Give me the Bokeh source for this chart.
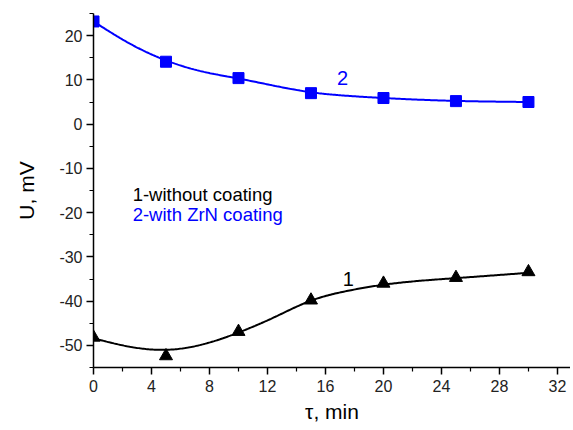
import numpy as np
from bokeh.plotting import figure
from bokeh.models import FixedTicker, Range1d, Label
from bokeh.embed import file_html
from bokeh.resources import INLINE

# data
tau = [0, 5, 10, 15, 20, 25, 30]
u_without = [-48.2, -52.4, -46.9, -39.8, -36.0, -34.7, -33.4]   # series 1 (black triangles)
u_zrn = [23.2, 14.1, 10.4, 7.0, 5.9, 5.2, 5.0]                   # series 2 (blue squares)

# smoothed (fitted) curves
fit1_x = [0, 2.5, 5, 7.5, 10, 12.5, 15, 17.5, 20, 25, 30]
fit1_y = [-48.4, -50.3, -51.0, -49.8, -47.1, -43.6, -39.9, -37.7, -36.3, -34.8, -33.6]
fit2_x = [0, 2.5, 5, 7.5, 10, 12.5, 15, 17.5, 20, 25, 30]
fit2_y = [23.2, 18.2, 14.4, 11.9, 10.3, 8.65, 7.2, 6.4, 5.9, 5.25, 5.0]

x_ticks = [0, 4, 8, 12, 16, 20, 24, 28, 32]
x_minor = [2, 6, 10, 14, 18, 22, 26, 30]
y_ticks = [-50, -40, -30, -20, -10, 0, 10, 20]
y_minor = [-55, -45, -35, -25, -15, -5, 5, 15, 25]

FONT = "Liberation Sans"


def natural_spline(xk, yk, n=300):
    xk = np.asarray(xk, float)
    yk = np.asarray(yk, float)
    m = len(xk)
    h = np.diff(xk)
    A = np.zeros((m, m))
    b = np.zeros(m)
    A[0, 0] = A[-1, -1] = 1
    for i in range(1, m - 1):
        A[i, i - 1] = h[i - 1]
        A[i, i] = 2 * (h[i - 1] + h[i])
        A[i, i + 1] = h[i]
        b[i] = 6 * ((yk[i + 1] - yk[i]) / h[i] - (yk[i] - yk[i - 1]) / h[i - 1])
    M = np.linalg.solve(A, b)
    xs = np.linspace(xk[0], xk[-1], n)
    ys = np.empty_like(xs)
    for j, x in enumerate(xs):
        i = min(np.searchsorted(xk, x, side="right") - 1, m - 2)
        t1 = xk[i + 1] - x
        t0 = x - xk[i]
        ys[j] = (M[i] * t1 ** 3 + M[i + 1] * t0 ** 3) / (6 * h[i]) \
            + (yk[i] / h[i] - M[i] * h[i] / 6) * t1 \
            + (yk[i + 1] / h[i] - M[i + 1] * h[i] / 6) * t0
    return xs, ys


p = figure(width=570, height=428, output_backend="svg", toolbar_location=None,
           x_range=Range1d(0, 32.9), y_range=Range1d(-55, 25),
           min_border_left=93, min_border_right=0, min_border_top=13, min_border_bottom=61,
           background_fill_color="white", border_fill_color="white")
p.outline_line_color = None
p.xgrid.visible = False
p.ygrid.visible = False

# curves
sx1, sy1 = natural_spline(fit1_x, fit1_y)
p.line(sx1, sy1, line_color="black", line_width=2)
sx2, sy2 = natural_spline(fit2_x, fit2_y)
p.line(sx2, sy2, line_color="#0000ff", line_width=2)

# markers
p.scatter(tau, u_without, marker="triangle", size=13, fill_color="black", line_color="black")
p.scatter(tau, u_zrn, marker="square", size=11, fill_color="#0000ff", line_color="#0000ff")

# axes
for ax in (p.xaxis[0], p.yaxis[0]):
    ax.axis_line_color = "black"
    ax.axis_line_width = 1.5
    ax.major_tick_line_color = "black"
    ax.minor_tick_line_color = "black"
    ax.major_tick_line_width = 1.5
    ax.minor_tick_line_width = 1.2
    ax.major_tick_in = 0
    ax.major_tick_out = 7
    ax.minor_tick_in = 0
    ax.minor_tick_out = 4
    ax.major_label_text_font = FONT
    ax.major_label_text_font_size = "16px"
    ax.major_label_text_color = "#222222"
    ax.axis_label_text_font = FONT
    ax.axis_label_text_font_style = "normal"
    ax.axis_label_text_font_size = "21px"
    ax.axis_label_text_color = "black"

p.xaxis[0].ticker = FixedTicker(ticks=x_ticks, minor_ticks=x_minor)
p.yaxis[0].ticker = FixedTicker(ticks=y_ticks, minor_ticks=y_minor)
p.xaxis[0].major_label_overrides = {t: str(t) for t in x_ticks}
p.yaxis[0].major_label_overrides = {t: str(t) for t in y_ticks}
p.xaxis[0].major_label_standoff = 5
p.yaxis[0].major_label_standoff = 4
p.xaxis[0].axis_label = "τ, min"
p.yaxis[0].axis_label = "U, mV"
p.xaxis[0].axis_label_standoff = 5
p.yaxis[0].axis_label_standoff = 18

# annotations
p.add_layout(Label(x=2.7, y=-18.3, text="1-without coating", text_font=FONT,
                   text_font_size="18.5px", text_color="black"))
p.add_layout(Label(x=2.7, y=-22.8, text="2-with ZrN coating", text_font=FONT,
                   text_font_size="18.5px", text_color="#0000ff"))
p.add_layout(Label(x=17.2, y=-36.5, text="1", text_font=FONT,
                   text_font_size="20px", text_color="black"))
p.add_layout(Label(x=16.8, y=8.8, text="2", text_font=FONT,
                   text_font_size="20px", text_color="#0000ff"))

open("out.html", "w").write(file_html(p, INLINE))
